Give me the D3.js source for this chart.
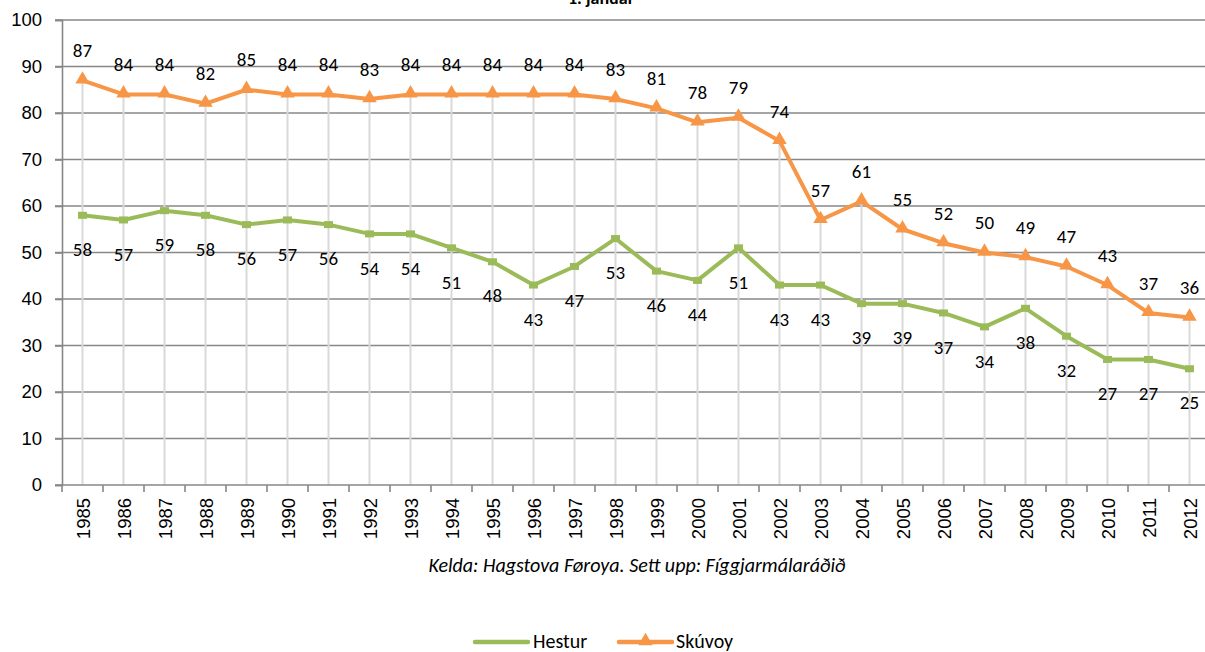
<!DOCTYPE html>
<html>
<head>
<meta charset="utf-8">
<script src="https://cdn.jsdelivr.net/npm/d3@7"></script>
<style>
  html, body { margin: 0; padding: 0; background: #fff; }
  svg { display: block; }
</style>
</head>
<body>
<svg id="chart" width="1205" height="652"></svg>
<script>
const years = [1985,1986,1987,1988,1989,1990,1991,1992,1993,1994,1995,1996,1997,1998,1999,2000,2001,2002,2003,2004,2005,2006,2007,2008,2009,2010,2011,2012];
const hestur = [58,57,59,58,56,57,56,54,54,51,48,43,47,53,46,44,51,43,43,39,39,37,34,38,32,27,27,25];
const skuvoy = [87,84,84,82,85,84,84,83,84,84,84,84,84,83,81,78,79,74,57,61,55,52,50,49,47,43,37,36];
const yTicks = [0,10,20,30,40,50,60,70,80,90,100];
const seriesNames = ["Hestur", "Skúvoy"];
const titleText = "1. januar";
const sourceText = "Kelda: Hagstova Føroya. Sett upp: Fíggjarmálaráðið";

const green = "#9bbb59", orange = "#f79646", gridCol = "#878787", dropCol = "#d9d9d9";
const labelFont = "Carlito, Lato, 'Open Sans', sans-serif";
const axisFont = "'Liberation Sans', Arial, sans-serif";

const svg = d3.select("#chart");
const plotLeft = 62, plotTop = 20, plotBottom = 485, band = 41;
const x = d3.scaleBand().domain(years).range([plotLeft, plotLeft + band * years.length]).paddingInner(0).paddingOuter(0);
const y = d3.scaleLinear().domain([0, 100]).range([plotBottom, plotTop]);
const cx = d => x(d) + x.bandwidth() / 2;

// title (mostly cut off at top, as in the reference)
svg.append("text").attr("x", 601).attr("y", 4).attr("text-anchor", "middle")
  .attr("font-family", labelFont).attr("font-weight", "bold").attr("font-size", 18).text(titleText);

// horizontal gridlines
svg.append("g").selectAll("line").data(yTicks.filter(t => t > 0)).join("line")
  .attr("x1", plotLeft - 7).attr("x2", 1205).attr("y1", d => y(d)).attr("y2", d => y(d))
  .attr("stroke", gridCol).attr("stroke-width", 1.6);

// drop lines
svg.append("g").selectAll("line").data(years).join("line")
  .attr("x1", d => cx(d)).attr("x2", d => cx(d))
  .attr("y1", (d, i) => y(Math.max(hestur[i], skuvoy[i]))).attr("y2", y(0))
  .attr("stroke", dropCol).attr("stroke-width", 2);

// y axis
const yAxis = d3.axisLeft(y).tickValues(yTicks).tickSize(7).tickPadding(12);
const gy = svg.append("g").attr("transform", `translate(${plotLeft},0)`).call(yAxis);
gy.select(".domain").attr("stroke", gridCol).attr("stroke-width", 1.6);
gy.selectAll(".tick line").attr("stroke", gridCol).attr("stroke-width", 1.6);
gy.selectAll(".tick text").attr("font-family", axisFont).attr("font-size", 18.5).attr("fill", "#000").attr("x", -20);

// x axis line and ticks at band boundaries
svg.append("line").attr("x1", plotLeft - 7).attr("x2", 1205).attr("y1", y(0)).attr("y2", y(0))
  .attr("stroke", gridCol).attr("stroke-width", 1.6);
svg.append("g").selectAll("line").data(years).join("line")
  .attr("x1", d => x(d)).attr("x2", d => x(d)).attr("y1", y(0)).attr("y2", y(0) + 7)
  .attr("stroke", gridCol).attr("stroke-width", 1.6);

// year labels
svg.append("g").selectAll("text").data(years).join("text")
  .attr("transform", d => `translate(${cx(d) + 1},498) rotate(-90)`)
  .attr("text-anchor", "end").attr("dy", "0.36em")
  .attr("font-family", axisFont).attr("font-size", 18.5).attr("fill", "#000")
  .text(d => d);

// lines
const line = d3.line().x((d, i) => cx(years[i])).y(d => y(d));
svg.append("path").datum(hestur).attr("d", line).attr("fill", "none")
  .attr("stroke", green).attr("stroke-width", 4).attr("stroke-linejoin", "round");
svg.append("path").datum(skuvoy).attr("d", line).attr("fill", "none")
  .attr("stroke", orange).attr("stroke-width", 4).attr("stroke-linejoin", "round");

// markers
svg.append("g").selectAll("rect").data(hestur).join("rect")
  .attr("x", (d, i) => cx(years[i]) - 4.5).attr("y", d => y(d) - 3.5)
  .attr("width", 9).attr("height", 7).attr("fill", green);
const tri = d3.symbol().type(d3.symbolTriangle).size(90);
svg.append("g").selectAll("path").data(skuvoy).join("path")
  .attr("d", tri).attr("transform", (d, i) => `translate(${cx(years[i])},${y(d) - 1})`)
  .attr("fill", orange);

// data labels
svg.append("g").selectAll("text").data(skuvoy).join("text")
  .attr("x", (d, i) => cx(years[i])).attr("y", d => y(d) - 30).attr("dy", "0.35em")
  .attr("text-anchor", "middle").attr("font-family", labelFont).attr("font-size", 19)
  .attr("fill", "#000").text(d => d);
svg.append("g").selectAll("text").data(hestur).join("text")
  .attr("x", (d, i) => cx(years[i])).attr("y", d => y(d) + 34).attr("dy", "0.35em")
  .attr("text-anchor", "middle").attr("font-family", labelFont).attr("font-size", 19)
  .attr("fill", "#000").text(d => d);

// source
svg.append("text").attr("x", 637).attr("y", 572).attr("text-anchor", "middle")
  .attr("font-family", labelFont).attr("font-style", "italic").attr("font-size", 20)
  .attr("fill", "#000").text(sourceText);

// legend
const lg = svg.append("g");
lg.append("line").attr("x1", 475).attr("x2", 528).attr("y1", 642).attr("y2", 642)
  .attr("stroke", green).attr("stroke-width", 4.5).attr("stroke-linecap", "round");
lg.append("text").attr("x", 533).attr("y", 648).attr("font-family", labelFont).attr("font-size", 20)
  .attr("fill", "#000").text(seriesNames[0]);
lg.append("line").attr("x1", 619).attr("x2", 672).attr("y1", 642).attr("y2", 642)
  .attr("stroke", orange).attr("stroke-width", 4.5).attr("stroke-linecap", "round");
lg.append("path").attr("d", tri).attr("transform", "translate(645.5,641)").attr("fill", orange);
lg.append("text").attr("x", 676).attr("y", 648).attr("font-family", labelFont).attr("font-size", 20)
  .attr("fill", "#000").text(seriesNames[1]);
</script>
</body>
</html>
